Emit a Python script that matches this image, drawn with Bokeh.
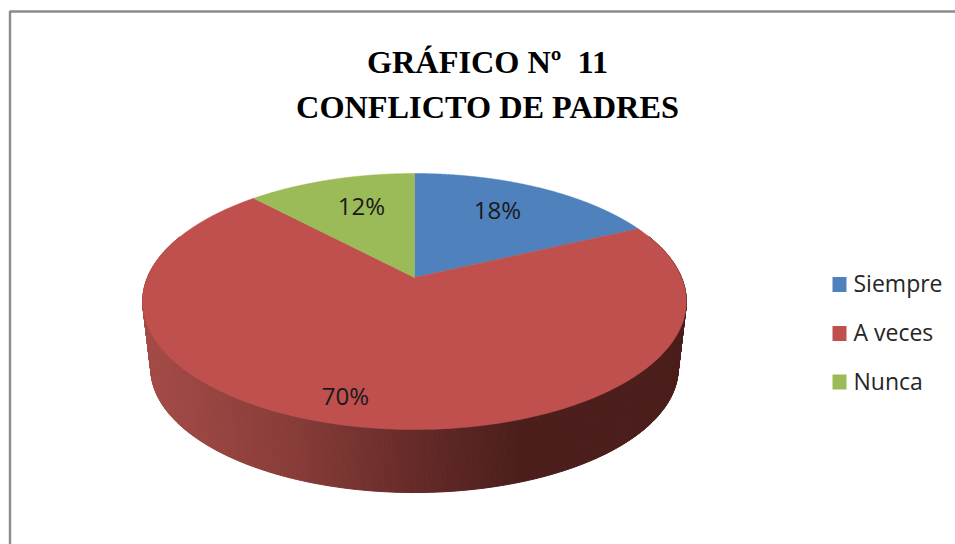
import numpy as np
from bokeh.plotting import figure
from bokeh.models import Range1d
from bokeh.core.properties import value
from bokeh.embed import file_html
from bokeh.resources import INLINE

# ---- chart data ----
categories = ["Siempre", "A veces", "Nunca"]
percent = [18, 70, 12]
colors = ["#4f81bd", "#c0504d", "#9bbb59"]
title_lines = ["GRÁFICO Nº\u00a0 11", "CONFLICTO DE PADRES"]

# ---- page geometry (one data unit = one page pixel) ----
W, H = 955, 544
X0, Y0 = 0, 0
CX, CY = 414.0, 277.0
A, B, K = 267.0, 123.5, 0.1875   # perspective projection of the pie disc
DEPTH, SHRINK = 67.6, 0.97       # lower rim of the pie


def project(theta, radius=1.0, dy=0.0, scale=1.0):
    """theta: clockwise from 12 o'clock in radians."""
    u = radius * np.sin(theta)
    v = radius * np.cos(theta)
    d = 1 + K * v
    return CX + scale * A * u / d, CY + dy - scale * B * v / d


p = figure(width=W, height=H, x_range=Range1d(X0, X0 + W), y_range=Range1d(Y0 + H, Y0),
           output_backend="svg", toolbar_location=None, min_border=0,
           outline_line_color=None, background_fill_color="white")
p.axis.visible = False
p.grid.visible = False

# chart frame: only top and left edges are visible in the crop
p.line([9.5, 9.5, X0 + W], [Y0 + H, 11, 11], line_color="#8c8c8c", line_width=2.4)

# boundaries of the slices, from the values
edges = np.cumsum([0] + percent) / sum(percent) * 2 * np.pi

# side wall of the front slice
th = np.linspace(edges[1], edges[2], 500)
tx, ty = project(th)
bx, by = project(th, dy=DEPTH, scale=SHRINK)
gx = [150, 300, 420, 520, 680]
gr = [165, 135, 100, 75, 75]
gg = [76, 60, 42, 30, 30]
gb = [72, 56, 40, 28, 28]
xs, ys, cols = [], [], []
for i in range(len(th) - 1):
    if np.cos((th[i] + th[i + 1]) / 2) > 0.35:
        continue
    xs.append([tx[i], tx[i + 1], bx[i + 1], bx[i]])
    ys.append([ty[i], ty[i + 1], by[i + 1], by[i]])
    m = (bx[i] + bx[i + 1]) / 2
    cols.append("#%02x%02x%02x" % (int(np.interp(m, gx, gr)), int(np.interp(m, gx, gg)), int(np.interp(m, gx, gb))))
p.patches(xs, ys, fill_color=cols, line_color=cols, line_width=1)

# top faces
for i, c in enumerate(categories):
    t = np.linspace(edges[i], edges[i + 1], 240)
    x, y = project(t)
    p.patch(np.r_[CX, x], np.r_[CY, y], fill_color=colors[i], line_color=colors[i], line_width=0.5)

# title
FONT = "Liberation Serif"
for line, yy in zip(title_lines, [61.5, 106.5]):
    p.text([487], [yy], text=[line], text_font=value(FONT), text_font_style="bold",
           text_font_size="32.3px", text_align="center", text_baseline="middle", text_color="#000000")

# data labels
LABEL_FONT = "Open Sans"
label_x = [497, 345, 361]
label_y = [209, 395, 205]
p.text(label_x, label_y, text=["%d%%" % v for v in percent], text_font=value(LABEL_FONT),
       text_font_size="24px", text_align="center", text_baseline="middle", text_color="#1a1a1a")

# legend
square_y = [284, 333, 381.5]
text_y = [282.5, 331.5, 380]
p.rect([839] * 3, square_y, width=14, height=15, fill_color=colors, line_color=None)
p.text([853] * 3, text_y, text=categories, text_font=value(LABEL_FONT), text_font_size="23px",
       text_align="left", text_baseline="middle", text_color="#262626")

open("out.html", "w").write(file_html(p, INLINE))
